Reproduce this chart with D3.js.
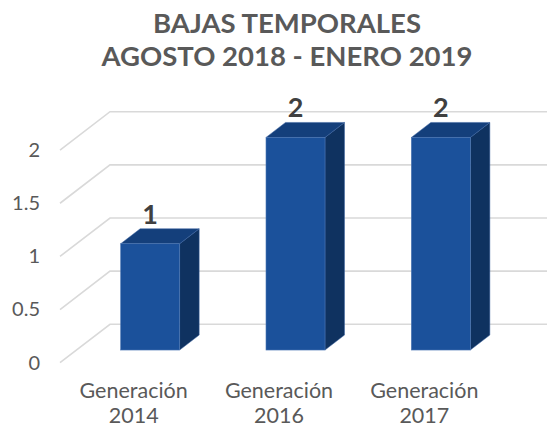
<!DOCTYPE html>
<html>
<head>
<meta charset="utf-8">
<script src="https://cdn.jsdelivr.net/npm/d3@7"></script>
<style>
  html, body { margin: 0; padding: 0; background: #fff; }
  svg { display: block; }
  text { font-family: Lato, "Open Sans", sans-serif; }
</style>
</head>
<body>
<svg id="chart" width="547" height="427"></svg>
<script>
const titleLines = ["BAJAS TEMPORALES", "AGOSTO 2018 - ENERO 2019"];
const categories = ["Generación 2014", "Generación 2016", "Generación 2017"];
const values = [1, 2, 2];
const yTicks = [0, 0.5, 1, 1.5, 2];
const tickLabels = ["0", "0.5", "1", "1.5", "2"];

const W = 547, H = 427;
const svg = d3.select("#chart");

// perspective: depth fraction d in [0,1] shifts right & up
const DEPTH_DX = 50, DEPTH_DY = -38.4;
const off = d => [d * DEPTH_DX, d * DEPTH_DY];

const x = d3.scaleBand().domain(categories).range([61, 497]).paddingInner(0.594).paddingOuter(0.297);
const y = d3.scaleLinear().domain([0, 2]).range([362.7, 150.1]);

// gridlines (left wall diagonal + back wall horizontal)
const grid = svg.append("g");
yTicks.forEach(v => {
  const [bx, by] = off(1);
  grid.append("path")
    .attr("d", `M${60},${y(v)} L${60 + bx},${y(v) + by} L${W},${y(v) + by}`)
    .attr("fill", "none").attr("stroke", "#d9d9d9").attr("stroke-width", 1.6);
});

// y axis labels
const yAxis = d3.axisLeft(y).tickValues(yTicks).tickSize(0).tickPadding(20)
  .tickFormat((d, i) => tickLabels[i]);
const ga = svg.append("g").attr("transform", "translate(60,0)").call(yAxis);
ga.select(".domain").remove();
ga.selectAll("text").attr("fill", "#595959").style("font-size", "20px")
  .style("font-family", "Lato, sans-serif");

// bars
const D0 = 0.33, D1 = 0.72;
const colFront = "#1b519b", colTop = "#143f7b", colSide = "#0f3260";
const bars = svg.append("g");
categories.forEach((c, i) => {
  const v = values[i];
  const [fx, fy] = off(D0);
  const [kx, ky] = off(D1 - D0);
  const x0 = x(c) + fx, x1 = x0 + x.bandwidth();
  const yb = y(0) + fy, yt = y(v) + fy;
  const g = bars.append("g");
  g.append("path") // side
    .attr("d", `M${x1},${yb} L${x1 + kx},${yb + ky} L${x1 + kx},${yt + ky} L${x1},${yt} Z`)
    .attr("fill", colSide).attr("stroke", "#3a63a0").attr("stroke-width", 0.5);
  g.append("path") // top
    .attr("d", `M${x0},${yt} L${x0 + kx},${yt + ky} L${x1 + kx},${yt + ky} L${x1},${yt} Z`)
    .attr("fill", colTop).attr("stroke", "#3a63a0").attr("stroke-width", 0.5);
  g.append("rect") // front
    .attr("x", x0).attr("y", yt).attr("width", x.bandwidth()).attr("height", yb - yt)
    .attr("fill", colFront).attr("stroke", "#4f78b4").attr("stroke-width", 0.6);
  // data label
  g.append("text")
    .attr("x", x0 + x.bandwidth() / 2)
    .attr("y", yt + ky - 5)
    .attr("text-anchor", "middle")
    .attr("fill", "#404040").style("font-size", "27px").style("font-weight", "bold")
    .text(v);
});

// category labels
categories.forEach(c => {
  const parts = c.split(" ");
  const t = svg.append("text")
    .attr("x", x(c) + x.bandwidth() / 2)
    .attr("text-anchor", "middle")
    .attr("fill", "#595959").style("font-size", "21.5px");
  t.append("tspan").attr("x", x(c) + x.bandwidth() / 2).attr("y", 398).text(parts[0]);
  t.append("tspan").attr("x", x(c) + x.bandwidth() / 2).attr("y", 423).text(parts[1]);
});

// title
titleLines.forEach((l, i) => {
  svg.append("text")
    .attr("x", 287).attr("y", 33 + i * 32.7)
    .attr("text-anchor", "middle")
    .attr("fill", "#595959").style("font-size", "27.5px").style("font-weight", "bold")
    .text(l);
});
</script>
</body>
</html>
